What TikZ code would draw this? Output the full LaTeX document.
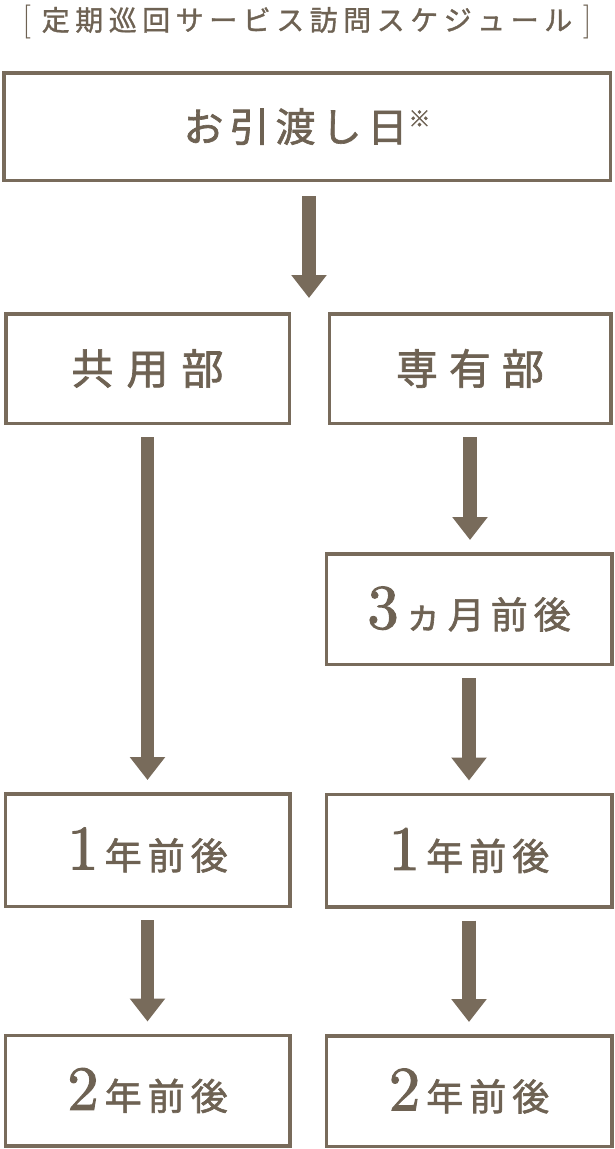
\documentclass[tikz,border=0pt]{standalone}
\usepackage{fontspec}
\newfontfamily\jp{Noto Sans CJK JP}[FakeBold=1.6]
\newfontfamily\jpt{Noto Sans CJK JP}[FakeBold=1.2]
\newfontfamily\dig{lmroman10-regular}[Extension=.otf, FakeBold=1.6]
\usetikzlibrary{arrows.meta,calc}
\definecolor{boxc}{HTML}{786B5B}
\definecolor{txtc}{HTML}{6E6253}
\newlength\kgap
\newcommand\kg{\hspace{\kgap}}
\newcommand\bigdigit[1]{{\dig\fontsize{63}{63}\selectfont #1}}
\begin{document}
\begin{tikzpicture}[x=1pt,y=-1pt,
  box/.style={draw=boxc, line width=3.5pt, fill=white, inner sep=0pt, text=txtc},
  lbl/.style={font=\jp\fontsize{42}{42}\selectfont},
  yr/.style={font=\jp\fontsize{37}{37}\selectfont},
  arr/.style={draw=boxc, line width=13.5pt, -{Triangle[width=34pt,length=23pt]}},
  ttl/.style={text=txtc, inner sep=0pt, font=\jpt\fontsize{28}{28}\selectfont}
]
\useasboundingbox (0,0) rectangle (614,1149);
\fill[white] (0,0) rectangle (614,1149);

% title
\node[ttl] (title) at (307,22) {\setlength\kgap{5.5pt}{\rmfamily\fontsize{34}{34}\selectfont [}\hspace{11pt}定\kg 期\kg 巡\kg 回\kg サ\kg ー\kg ビ\kg ス\kg 訪\kg 問\kg ス\kg ケ\kg ジ\kg ュ\kg ー\kg ル\hspace{11pt}{\rmfamily\fontsize{34}{34}\selectfont ]}};

% boxes
\node[box, minimum width=606.5pt, minimum height=107.5pt, font=\jp\fontsize{40}{40}\selectfont] (top) at (307,126.5)
  {\setlength\kgap{6pt}お\kg 引\kg 渡\kg し\kg 日\hspace{1pt}\raisebox{15pt}{\fontsize{22}{22}\selectfont ※}};

\node[box, lbl, minimum width=283.5pt, minimum height=109.5pt] (kyo) at (147.5,368.5)
  {\setlength\kgap{13pt}共\kg 用\kg 部};
\node[box, lbl, minimum width=281.5pt, minimum height=109.5pt] (sen) at (470,368.5)
  {\setlength\kgap{11pt}専\kg 有\kg 部};

\node[box, yr, minimum width=285.5pt, minimum height=110.5pt] (m3) at (469,609)
  {\setlength\kgap{6pt}\bigdigit{3}\hspace{6pt}ヵ\kg 月\kg 前\kg 後};

\node[box, yr, minimum width=284.5pt, minimum height=112.5pt] (k1) at (147.5,850)
  {\setlength\kgap{6pt}\bigdigit{1}\hspace{6pt}年\kg 前\kg 後};
\node[box, yr, minimum width=285.5pt, minimum height=112.5pt] (s1) at (469,850.5)
  {\setlength\kgap{6pt}\bigdigit{1}\hspace{6pt}年\kg 前\kg 後};

\node[box, yr, minimum width=284.5pt, minimum height=110.5pt] (k2) at (147.5,1090.5)
  {\setlength\kgap{6pt}\bigdigit{2}\hspace{6pt}年\kg 前\kg 後};
\node[box, yr, minimum width=285.5pt, minimum height=110.5pt] (s2) at (469,1091)
  {\setlength\kgap{6pt}\bigdigit{2}\hspace{6pt}年\kg 前\kg 後};

% arrows
\coordinate (split) at (309,298);
\draw[arr] ($(top.south -| split)+(0,14)$) -- (split);
\draw[arr] ($(kyo.south)+(0,12)$) -- ($(kyo.south |- k1.north)+(0,-12)$);
\draw[arr] ($(k1.south)+(0,12)$) -- ($(k1.south |- k2.north)+(0,-12)$);
\draw[arr] ($(sen.south)+(0,12)$) -- ($(sen.south |- m3.north)+(0,-12)$);
\draw[arr] ($(m3.south)+(0,12)$) -- ($(m3.south |- s1.north)+(0,-12)$);
\draw[arr] ($(s1.south)+(0,12)$) -- ($(s1.south |- s2.north)+(0,-12)$);
\end{tikzpicture}
\end{document}
